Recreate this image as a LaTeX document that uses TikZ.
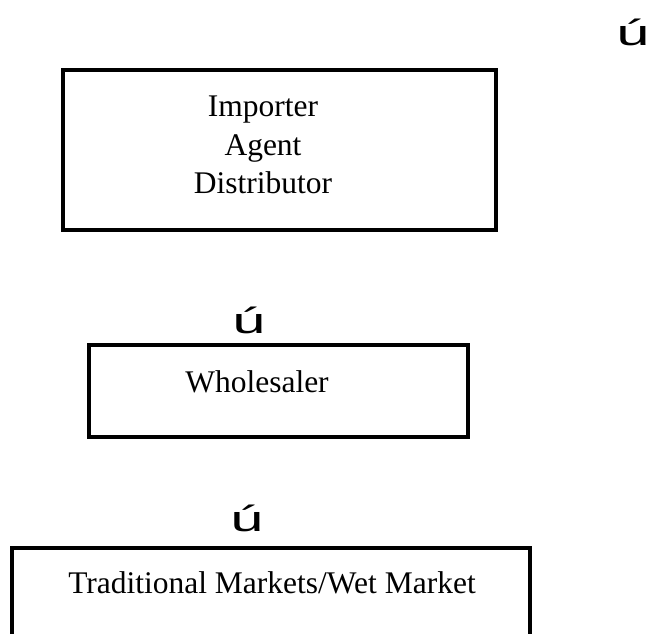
\documentclass[tikz,border=0pt]{standalone}
\usepackage{fontspec}
\setmainfont{Liberation Serif}
\newfontfamily\arrowfont{Liberation Sans}
\begin{document}
\begin{tikzpicture}[x=1pt,y=-1pt,
  boxline/.style={draw=black,line width=3.2pt},
  lbl/.style={inner sep=0pt,anchor=base,font=\fontsize{31.5}{38}\selectfont},
  glyph/.style={inner sep=0pt,anchor=base,font=\arrowfont\fontsize{36}{40}\selectfont,xscale=1.65}]
\useasboundingbox (0,0) rectangle (649,633);
% boxes
\node[boxline,minimum width=433pt,minimum height=160pt,inner sep=0pt] (b1) at (279.5,150) {};
\node[boxline,minimum width=379pt,minimum height=92pt,inner sep=0pt] (b2) at (278.5,391) {};
\coordinate (b3bl) at (12,660);
\coordinate (b3tl) at (12,548);
\coordinate (b3tr) at (530,548);
\coordinate (b3br) at (530,660);
\draw[boxline,line join=miter] (b3bl) -- (b3tl) -- (b3tr) -- (b3br);
% texts
\node[lbl] (t1) at (263,116) {Importer};
\node[lbl] (t2) at (263,155) {Agent};
\node[lbl] (t3) at (263,193) {Distributor};
\node[lbl] (t4) at (257,392) {Wholesaler};
\node[lbl] (t5) at (272,593) {Traditional Markets/Wet Market};
% arrow glyphs
\node[glyph] (m1) at (633,45) {ú};
\node[glyph] (m2) at (249,333) {ú};
\node[glyph] (m3) at (247,531) {ú};
\end{tikzpicture}
\end{document}
